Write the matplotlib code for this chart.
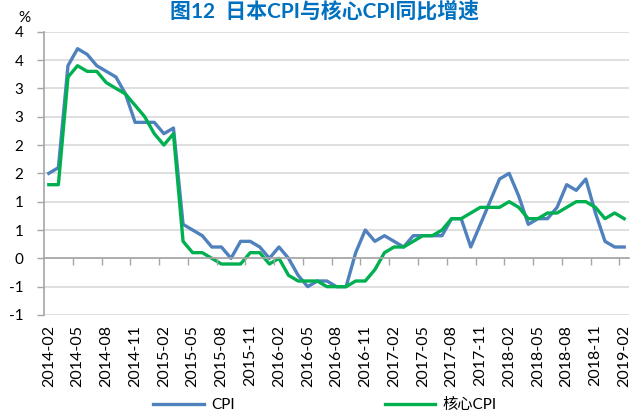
import matplotlib
matplotlib.use("Agg")
import matplotlib.pyplot as plt
import numpy as np
import pandas as pd

plt.rcParams['font.family'] = ['Lato', 'Noto Sans CJK SC', 'DejaVu Sans']

months = pd.period_range('2014-02', '2019-02', freq='M').strftime('%Y-%m').tolist()

cpi = [1.5, 1.6, 3.4, 3.7, 3.6, 3.4, 3.3, 3.2, 2.9, 2.4, 2.4,
       2.4, 2.2, 2.3, 0.6, 0.5, 0.4, 0.2, 0.2, 0.0, 0.3, 0.3, 0.2,
       0.0, 0.2, 0.0, -0.3, -0.5, -0.4, -0.4, -0.5, -0.5, 0.1, 0.5, 0.3,
       0.4, 0.3, 0.2, 0.4, 0.4, 0.4, 0.4, 0.7, 0.7, 0.2, 0.6, 1.0,
       1.4, 1.5, 1.1, 0.6, 0.7, 0.7, 0.9, 1.3, 1.2, 1.4, 0.8, 0.3,
       0.2, 0.2]
core_cpi = [1.3, 1.3, 3.2, 3.4, 3.3, 3.3, 3.1, 3.0, 2.9, 2.7, 2.5,
            2.2, 2.0, 2.2, 0.3, 0.1, 0.1, 0.0, -0.1, -0.1, -0.1, 0.1, 0.1,
            -0.1, 0.0, -0.3, -0.4, -0.4, -0.4, -0.5, -0.5, -0.5, -0.4, -0.4, -0.2,
            0.1, 0.2, 0.2, 0.3, 0.4, 0.4, 0.5, 0.7, 0.7, 0.8, 0.9, 0.9,
            0.9, 1.0, 0.9, 0.7, 0.7, 0.8, 0.8, 0.9, 1.0, 1.0, 0.9, 0.7,
            0.8, 0.7]
series_names = ['CPI', '核心CPI']
y_ticks = [-1.0, -0.5, 0.0, 0.5, 1.0, 1.5, 2.0, 2.5, 3.0, 3.5, 4.0]
y_tick_labels = ['-1', '-1', '0', '1', '1', '2', '2', '3', '3', '4', '4']
title = '图12  日本CPI与核心CPI同比增速'

fig = plt.figure(figsize=(6.41, 4.17), dpi=100)
ax = fig.add_axes([44/641, 1-315/417, (629-44)/641, (315-31.7)/417])

x = np.arange(len(months))
ax.plot(x, cpi, color='#4F81BD', lw=2.4, label=series_names[0], zorder=3)
ax.plot(x, core_cpi, color='#00B050', lw=2.4, label=series_names[1], zorder=4)

ax.set_xlim(-0.5, len(months) - 0.5)
ax.set_ylim(-1, 4)
ax.set_yticks(y_ticks)
ax.set_yticklabels(y_tick_labels, fontsize=11)
ax.yaxis.grid(True, color='#D9D9D9', lw=1.2)
ax.set_axisbelow(True)
ax.tick_params(axis='y', length=5, width=1, color='#A6A6A6', pad=10)

ax.set_xticks(x[::3])
ax.set_xticklabels([months[i] for i in x[::3]], rotation=90, fontsize=11.5)
ax.tick_params(axis='x', length=0, pad=7)

for s in ['top', 'right', 'bottom']:
    ax.spines[s].set_visible(False)
ax.spines['left'].set_color('#A6A6A6')
ax.spines['left'].set_linewidth(1.2)

# category axis crossing at 0
ax2 = ax.twiny()
ax2.set_xlim(ax.get_xlim())
for s in ['top', 'right', 'left']:
    ax2.spines[s].set_visible(False)
ax2.spines['bottom'].set_position(('data', 0))
ax2.spines['bottom'].set_color('#A6A6A6')
ax2.spines['bottom'].set_linewidth(1.2)
ax2.xaxis.set_ticks_position('bottom')
ax2.set_xticks(np.arange(2.5, len(months) - 0.5, 3))
ax2.tick_params(axis='x', length=5, width=1, color='#A6A6A6', labelbottom=False, labeltop=False)

fig.text(325/641, 1-1/417, title, ha='center', va='top', fontsize=15,
         fontweight='bold', color='#0070C0')
fig.text(18/641, 1-18/417, '%', ha='left', va='center', fontsize=11)

h, l = ax.get_legend_handles_labels()
fig.legend(h, l, loc='center', bbox_to_anchor=(325/641, 1-405/417), ncol=2,
           frameon=False, fontsize=11, handlelength=3.3, columnspacing=9.8,
           handletextpad=0.5)

fig.savefig('out.png', dpi=100)
